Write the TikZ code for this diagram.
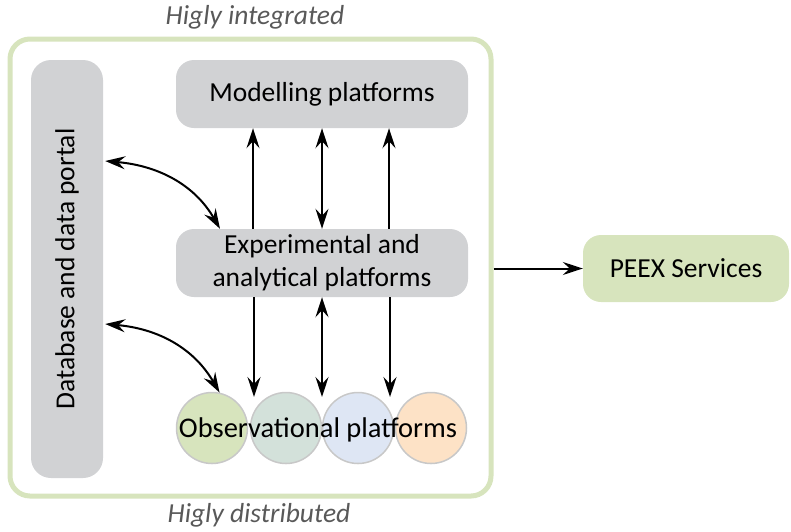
\documentclass[tikz,border=0pt]{standalone}
\usepackage{fontspec}
\setmainfont{Carlito}
\usetikzlibrary{arrows.meta,calc}
\definecolor{boxgray}{HTML}{D1D2D4}
\definecolor{peexgreen}{HTML}{D7E4BD}
\definecolor{framegreen}{HTML}{D7E4BD}
\definecolor{cgreen}{HTML}{D7E4BD}
\definecolor{cteal}{HTML}{D3E1DA}
\definecolor{cblue}{HTML}{DEE6F4}
\definecolor{cpeach}{HTML}{FDE2C6}
\definecolor{cborder}{HTML}{C8C8C8}
\definecolor{labelgray}{HTML}{595959}
\begin{document}
\begin{tikzpicture}[x=1pt,y=-1pt,
  txt/.style={font=\fontsize{27.5}{33}\selectfont},
  graybox/.style={fill=boxgray, rounded corners=18pt, minimum width=292pt, minimum height=68pt, align=center, inner sep=0pt, txt},
  circ/.style={circle, draw=cborder, line width=1.5pt, minimum size=71pt, inner sep=0pt},
  tip/.tip={Stealth[length=20pt,width=13pt,inset=7pt]},
  arr/.style={line width=2pt, -tip},
  darr/.style={line width=2pt, tip-tip},
  lab/.style={text=labelgray, font=\fontsize{27.5}{33}\selectfont\itshape}
]
\useasboundingbox (0,0) rectangle (791,531);
\node[draw=framegreen, line width=5pt, rounded corners=20pt, minimum width=481pt, minimum height=457pt] (outer) at (250.5,267.5) {};
\node[fill=boxgray, rounded corners=20pt, rotate=90, minimum width=418pt, minimum height=72pt, inner sep=0pt, txt] (db) at (67,269) {Database and data portal};
\node[graybox] (mod) at (322,94) {Modelling platforms};
\node[graybox] (exp) at (322,263) {Experimental and\\analytical platforms};
\node[circ, fill=cgreen] (c1) at (212,428) {};
\node[circ, fill=cteal] (c2) at (286,428) {};
\node[circ, fill=cblue] (c3) at (358,428) {};
\node[circ, fill=cpeach] (c4) at (431,428) {};
\node[font=\fontsize{28.5}{33}\selectfont] (obs) at (318,430) {Observational platforms};
\node[fill=peexgreen, rounded corners=18pt, minimum width=206pt, minimum height=67pt, txt] (peex) at (686,268.5) {PEEX Services};
\node[lab] (top) at (255,17) {Higly integrated};
\node[lab] (bot) at (259,515) {Higly distributed};
\coordinate (t1) at (254,397);
\coordinate (t2) at (322,397);
\coordinate (t3) at (390,397);
\draw[arr] ([xshift=-69pt]exp.north) -- ([xshift=-69pt]mod.south);
\draw[darr] (exp.north) -- (mod.south);
\draw[arr] ([xshift=67pt]exp.north) -- ([xshift=67pt]mod.south);
\draw[arr] ([xshift=-68pt]exp.south) -- (t1);
\draw[darr] (exp.south) -- (t2);
\draw[arr] ([xshift=68pt]exp.south) -- (t3);
\draw[darr] ([yshift=108pt,xshift=2pt]db.south) to[out=-5,in=120] ([xshift=-102pt]exp.north);
\draw[darr] ([yshift=-55pt,xshift=2pt]db.south) to[out=-5,in=120] (c1.78);
\draw[arr] (outer.east |- peex.west) -- (peex.west);
\end{tikzpicture}
\end{document}
